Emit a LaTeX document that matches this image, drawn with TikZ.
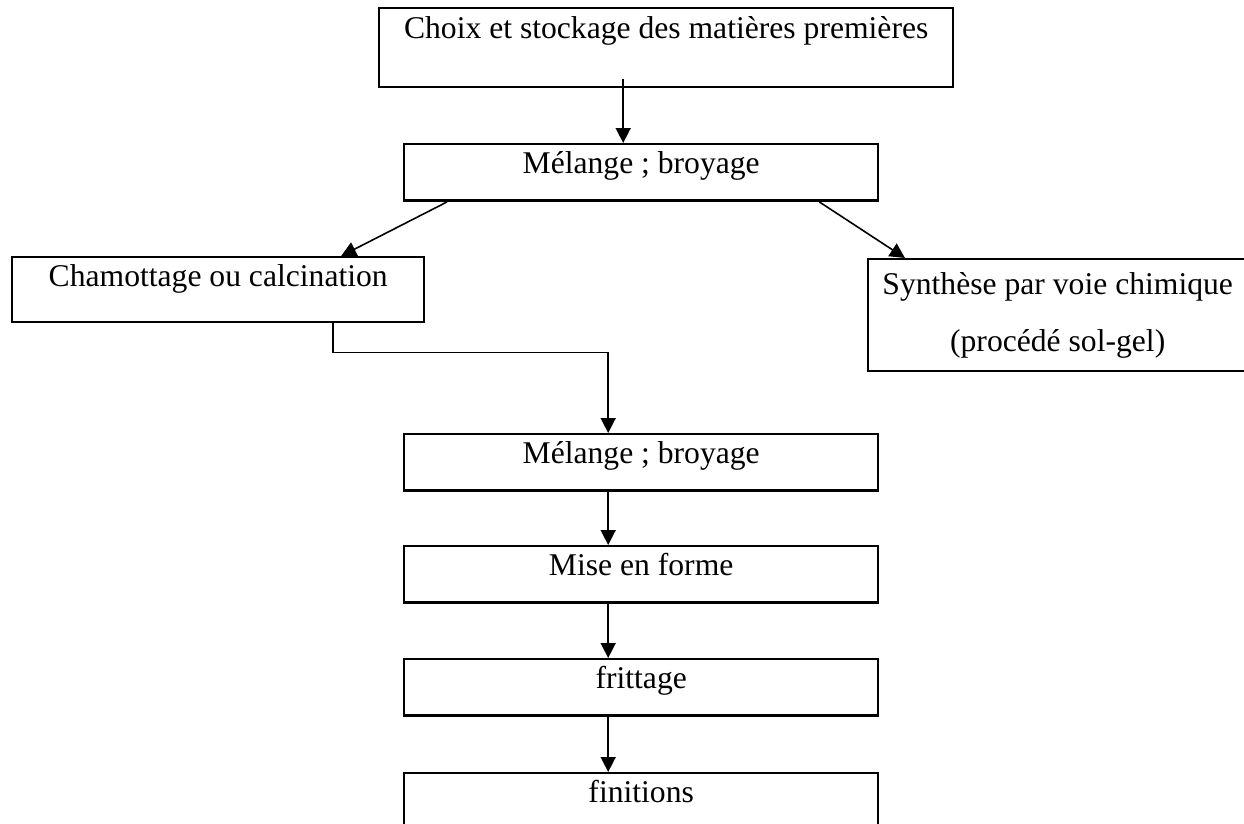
\documentclass[tikz,border=0pt]{standalone}
\usepackage{fontspec}
\setmainfont{Liberation Serif}
\usetikzlibrary{arrows.meta}

\tikzset{
	box/.style={draw, line width=1.4pt, inner sep=0pt, anchor=north west, font=\fontsize{18}{22}\selectfont},
	etape/.style={box, minimum width=9.48cm, text height=0.58cm, text depth=0.55cm},
	fleche/.style={line width=0.9pt, -{Triangle[length=0.3cm,width=0.3cm]}}
}

\begin{document}
\begin{tikzpicture}[x=0.02cm, y=-0.02cm]
	\useasboundingbox (0,0) rectangle (1244,824);

	\node (choix) [box, minimum width=11.48cm, text height=0.6cm, text depth=0.98cm] at (378,7) {Choix et stockage des matières premières};
	\node (melange) [etape] at (403,143) {Mélange ; broyage};
	\node (chamottage) [box, minimum width=8.24cm, text height=0.58cm, text depth=0.72cm] at (11,256) {Chamottage ou calcination};
	\node (synthese) [box, minimum width=7.58cm, minimum height=2.24cm, align=center] at (867,258) {Synthèse par voie chimique\\[0.36cm](procédé sol-gel)};
	\node (melangeb) [etape] at (403,433) {Mélange ; broyage};
	\node (forme) [etape] at (403,545) {Mise en forme};
	\node (frittage) [etape] at (403,658) {frittage};
	\node (finitions) [etape, text depth=0.78cm] at (403,772) {finitions};

	\draw [fleche, shorten <=-0.18cm] ([xshift=-0.36cm]melange.north |- choix.south) -- ([xshift=-0.36cm]melange.north);
	\draw [fleche] ([xshift=0.88cm]melange.south west) -- ([xshift=2.46cm]chamottage.north);
	\draw [fleche] ([xshift=-1.2cm]melange.south east) -- ([xshift=0.76cm]synthese.north west);
	\draw [fleche] ([xshift=2.3cm]chamottage.south) -- ++(0,29) -| ([xshift=-0.66cm]melangeb.north);
	\draw [fleche] ([xshift=-0.66cm]melangeb.south) -- ([xshift=-0.66cm]forme.north);
	\draw [fleche] ([xshift=-0.66cm]forme.south) -- ([xshift=-0.66cm]frittage.north);
	\draw [fleche] ([xshift=-0.66cm]frittage.south) -- ([xshift=-0.66cm]finitions.north);
\end{tikzpicture}
\end{document}
